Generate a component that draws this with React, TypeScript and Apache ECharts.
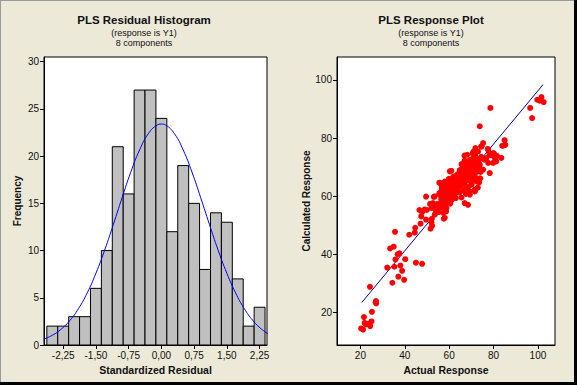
import React, { useEffect, useRef } from "react";
import * as echarts from "echarts";

// ---------- Left panel: residual histogram ----------
const binCenters = [-2.5, -2.25, -2.0, -1.75, -1.5, -1.25, -1.0, -0.75, -0.5, -0.25, 0.0, 0.25, 0.5, 0.75, 1.0, 1.25, 1.5, 1.75, 2.0, 2.25];
const binFreqs = [2, 2, 3, 3, 6, 10, 21, 16, 27, 27, 24, 12, 19, 15, 8, 14, 13, 7, 2, 4];
const binWidth = 0.25;

// fitted normal curve
const curveX = [-2.7, -2.5, -2.3, -2.1, -1.9, -1.7, -1.5, -1.3, -1.1, -0.9, -0.7, -0.5, -0.3, -0.1, 0.0, 0.1, 0.3, 0.5, 0.7, 0.9, 1.1, 1.3, 1.5, 1.7, 1.9, 2.1, 2.3, 2.5];
const curveY = [0.61, 1.03, 1.66, 2.58, 3.85, 5.52, 7.6, 10.05, 12.78, 15.61, 18.32, 20.65, 22.37, 23.28, 23.4, 23.28, 22.37, 20.65, 18.32, 15.61, 12.78, 10.05, 7.6, 5.52, 3.85, 2.58, 1.66, 1.03];

const histXTicks = [-2.25, -1.5, -0.75, 0, 0.75, 1.5, 2.25];
const histXTickLabels = ["-2,25", "-1,50", "-0,75", "0,00", "0,75", "1,50", "2,25"];
const histYTicks = [0, 5, 10, 15, 20, 25, 30];

// ---------- Right panel: response plot ----------
const responsePairs: [number, number][] = [
  // low group
  [20.3, 14.6], [21.2, 14.2], [21.6, 18.5], [21.9, 16.5], [22.5, 16.0], [23.4, 16.2], [24.4, 15.4], [25.0, 17.0], [25.2, 20.3], [24.3, 28.9], [27.0, 24.0], [27.1, 23.2], [26.9, 23.6],
  // 30-48
  [32.1, 35.5], [33.4, 42.1], [34.4, 30.3], [35.0, 42.7], [35.3, 35.8], [35.6, 47.8], [35.8, 38.3], [36.8, 40.1], [37.1, 32.4], [37.6, 40.4], [38.0, 36.2], [38.8, 34.4], [39.7, 31.3], [40.2, 38.4], [42.0, 46.8], [44.5, 47.5], [44.7, 49.2], [45.0, 37.2], [47.8, 36.8],
  // 46-55
  [46.6, 55.3], [47.1, 50.6], [47.4, 53.1], [47.8, 54.6], [49.0, 55.5], [49.6, 52.0], [49.6, 59.9], [49.9, 55.3], [51.4, 57.4], [51.6, 48.9], [52.0, 51.0], [52.3, 49.9], [52.2, 52.3], [53.1, 56.6], [53.1, 59.8], [52.0, 56.0], [52.7, 57.7], [53.5, 53.7], [53.5, 60.0], [53.8, 55.4], [54.7, 57.4], [55.0, 56.5], [55.2, 54.6], [55.6, 61.1], [55.6, 64.7], [55.8, 56.3], [55.8, 60.6], [55.8, 64.6],
  // dense 56-73
  [56.4, 58.9], [57.1, 56.0], [57.3, 58.3], [57.3, 54.3], [57.6, 52.3], [57.9, 58.9], [58.0, 61.7], [58.0, 65.1], [58.0, 52.6], [58.6, 54.8], [58.8, 56.0], [59.5, 64.2], [60.3, 60.8], [60.3, 68.6], [61.0, 68.8], [63.0, 59.4], [64.0, 66.9], [64.0, 65.1], [65.6, 59.6], [65.6, 71.1], [66.3, 68.8], [66.3, 64.0], [67.0, 72.3], [67.0, 57.7], [67.8, 67.2], [67.8, 62.9], [68.1, 74.3], [68.5, 57.1], [69.3, 66.3], [69.3, 60.6], [69.3, 61.7], [70.1, 70.9], [70.1, 64.0], [70.5, 72.9], [70.8, 72.0], [70.8, 66.9], [71.6, 61.7], [71.6, 62.3], [71.6, 74.3], [72.0, 73.4], [72.3, 71.5], [72.3, 66.3], [72.3, 69.2], [72.3, 65.1],
  [56.2, 60.2], [56.5, 61.8], [56.8, 63.2], [57.0, 59.5], [57.2, 62.5], [57.5, 60.8], [57.8, 63.8], [57.0, 57.5], [56.7, 62.9], [57.7, 59.7],
  [58.2, 59.0], [58.4, 60.5], [58.5, 62.4], [58.7, 63.6], [58.9, 61.2], [59.1, 59.9], [59.3, 62.8], [59.6, 61.0], [59.8, 63.5], [58.3, 57.2], [59.2, 58.0], [59.9, 66.0], [59.0, 64.9],
  [60.1, 62.2], [60.4, 59.3], [60.6, 63.9], [60.8, 61.5], [61.0, 65.3], [61.3, 62.6], [61.5, 60.2], [61.7, 64.1], [61.9, 66.8], [60.5, 57.5], [61.2, 58.8], [62.0, 63.0],
  [62.2, 61.3], [62.4, 64.9], [62.6, 66.2], [62.8, 62.4], [63.1, 65.5], [63.3, 63.7], [63.5, 67.4], [63.8, 64.6], [62.5, 60.0], [63.6, 61.5],
  [64.2, 63.2], [64.4, 67.9], [64.6, 65.9], [64.9, 64.3], [65.1, 68.4], [65.3, 66.6], [65.6, 63.9], [65.8, 69.6], [64.7, 61.3], [65.9, 67.5], [64.8, 69.0],
  [66.1, 65.4], [66.4, 70.2], [66.6, 66.8], [66.8, 68.9], [67.1, 64.9], [67.3, 70.6], [67.5, 66.2], [67.8, 69.5], [66.2, 62.0], [67.6, 60.8], [66.9, 74.0],
  [68.1, 68.1], [68.3, 71.3], [68.5, 65.7], [68.8, 70.0], [69.0, 67.1], [69.2, 72.5], [69.5, 68.7], [69.8, 71.0], [68.6, 63.4], [69.7, 65.3],
  [70.2, 68.9], [70.4, 70.3], [70.6, 74.7], [71.0, 69.7], [71.3, 71.6], [71.5, 67.9], [71.9, 70.6], [70.9, 75.3], [71.8, 76.6], [71.2, 65.8],
  [72.6, 68.5], [72.8, 71.9], [73.0, 75.4], [73.3, 69.9], [73.6, 72.7], [73.8, 70.9], [74.2, 68.4], [74.5, 73.6], [74.6, 77.2], [75.3, 78.3], [74.0, 66.2], [73.5, 64.8], [72.9, 63.0],
  // 75-86 and outliers
  [75.3, 69.2], [75.9, 72.6], [76.8, 73.2], [77.4, 76.3], [77.6, 71.5], [77.6, 76.0], [78.2, 74.7], [78.3, 68.0], [78.3, 74.3], [79.2, 74.1], [79.8, 74.9], [79.8, 71.5], [80.2, 74.7], [80.6, 73.5], [80.6, 73.2], [81.2, 72.0], [81.5, 73.9], [83.5, 73.2], [83.9, 77.4], [84.3, 77.4], [85.0, 79.3], [85.3, 77.7], [78.6, 90.4], [73.8, 84.1], [74.4, 77.1],
  // top right
  [96.5, 90.4], [97.4, 86.9], [99.7, 93.2], [100.8, 92.9], [101.6, 94.1], [102.6, 92.4],
];

const fitLineX = [20.6, 102.3];
const fitLineY = [23.5, 98.4];

const respTicks = [20, 40, 60, 80, 100];

const FONT = "'Liberation Sans', Arial, sans-serif";
const TXT = "#111";

function tick(values: number[]) {
  return { show: true, inside: false, length: 4, lineStyle: { color: "#000" }, customValues: values };
}
const axisLine = { show: true, onZero: false, lineStyle: { color: "#000", width: 1 } };

export default function App() {
  const ref = useRef<HTMLDivElement>(null);
  useEffect(() => {
    document.body.style.margin = "0";
    const chart = echarts.init(ref.current as HTMLDivElement, null, { renderer: "svg" });

    const option: any = {
      animation: false,
      backgroundColor: "#ece9d8",
      textStyle: { fontFamily: FONT },
      grid: [
        { left: 44, top: 57, width: 223, height: 288, show: true, backgroundColor: "#fff", borderColor: "#000", borderWidth: 1, containLabel: false },
        { left: 337, top: 57, width: 218, height: 288, show: true, backgroundColor: "#fff", borderColor: "#000", borderWidth: 1, containLabel: false },
      ],
      xAxis: [
        {
          type: "value", gridIndex: 0, min: -2.69, max: 2.42,
          axisLine, splitLine: { show: false },
          name: "Standardized Residual", nameLocation: "middle", nameGap: 15,
          nameTextStyle: { fontFamily: FONT, fontSize: 10.5, fontWeight: "bold", color: TXT },
          axisTick: tick(histXTicks),
          axisLabel: {
            customValues: histXTicks, margin: 5, fontSize: 10, color: TXT, fontFamily: FONT,
            formatter: (v: number) => histXTickLabels[histXTicks.findIndex((t) => Math.abs(t - v) < 1e-6)] ?? "",
          },
        },
        {
          type: "value", gridIndex: 1, min: 9.45, max: 107.7,
          axisLine, splitLine: { show: false },
          name: "Actual Response", nameLocation: "middle", nameGap: 15,
          nameTextStyle: { fontFamily: FONT, fontSize: 10.5, fontWeight: "bold", color: TXT },
          axisTick: tick(respTicks),
          axisLabel: { customValues: respTicks, margin: 5, fontSize: 10, color: TXT, fontFamily: FONT },
        },
      ],
      yAxis: [
        {
          type: "value", gridIndex: 0, min: 0, max: 30.5,
          axisLine, splitLine: { show: false },
          name: "Frequency", nameLocation: "middle", nameGap: 22,
          nameTextStyle: { fontFamily: FONT, fontSize: 10, fontWeight: "bold", color: TXT },
          axisTick: tick(histYTicks),
          axisLabel: { customValues: histYTicks, margin: 5, fontSize: 10, color: TXT, fontFamily: FONT },
        },
        {
          type: "value", gridIndex: 1, min: 8.9, max: 107.9,
          axisLine, splitLine: { show: false },
          name: "Calculated Response", nameLocation: "middle", nameGap: 26,
          nameTextStyle: { fontFamily: FONT, fontSize: 10, fontWeight: "bold", color: TXT },
          axisTick: tick(respTicks),
          axisLabel: { customValues: respTicks, margin: 5, fontSize: 10, color: TXT, fontFamily: FONT },
        },
      ],
      series: [
        {
          type: "custom",
          xAxisIndex: 0,
          yAxisIndex: 0,
          data: binCenters.map((c, i) => [c, binFreqs[i]]),
          renderItem: (_params: any, api: any) => {
            const c = api.value(0);
            const f = api.value(1);
            const p1 = api.coord([c - binWidth / 2, f]);
            const p2 = api.coord([c + binWidth / 2, 0]);
            return {
              type: "rect",
              shape: { x: p1[0], y: p1[1], width: p2[0] - p1[0], height: p2[1] - p1[1] },
              style: { fill: "#c0c0c0", stroke: "#000", lineWidth: 1 },
            };
          },
        },
        {
          type: "line",
          xAxisIndex: 0,
          yAxisIndex: 0,
          data: curveX.map((x, i) => [x, curveY[i]]),
          smooth: true,
          showSymbol: false,
          clip: true,
          lineStyle: { color: "#0000ff", width: 1 },
          z: 5,
        },
        {
          type: "line",
          xAxisIndex: 1,
          yAxisIndex: 1,
          data: fitLineX.map((x, i) => [x, fitLineY[i]]),
          showSymbol: false,
          lineStyle: { color: "#0000a0", width: 1 },
          z: 2,
        },
        {
          type: "scatter",
          xAxisIndex: 1,
          yAxisIndex: 1,
          data: responsePairs,
          symbolSize: 6,
          itemStyle: { color: "#ff0000", opacity: 1 },
          z: 3,
        },
      ],
      graphic: [
        { type: "text", x: 144, y: 20, style: { text: "PLS Residual Histogram", font: `bold 11.5px ${FONT}`, fill: TXT, textAlign: "center", textVerticalAlign: "middle" } },
        { type: "text", x: 144, y: 32.5, style: { text: "(response is Y1)", font: `9px ${FONT}`, fill: TXT, textAlign: "center", textVerticalAlign: "middle" } },
        { type: "text", x: 144, y: 42.5, style: { text: "8 components", font: `9px ${FONT}`, fill: TXT, textAlign: "center", textVerticalAlign: "middle" } },
        { type: "text", x: 431, y: 20, style: { text: "PLS Response Plot", font: `bold 11.5px ${FONT}`, fill: TXT, textAlign: "center", textVerticalAlign: "middle" } },
        { type: "text", x: 431, y: 32.5, style: { text: "(response is Y1)", font: `9px ${FONT}`, fill: TXT, textAlign: "center", textVerticalAlign: "middle" } },
        { type: "text", x: 431, y: 42.5, style: { text: "8 components", font: `9px ${FONT}`, fill: TXT, textAlign: "center", textVerticalAlign: "middle" } },
        { type: "rect", shape: { x: 0, y: 0, width: 577, height: 1 }, style: { fill: "#9a9a9a" } },
        { type: "rect", shape: { x: 0, y: 0, width: 1, height: 385 }, style: { fill: "#9a9a9a" } },
        { type: "rect", shape: { x: 574, y: 0, width: 3, height: 385 }, style: { fill: "#000" } },
        { type: "rect", shape: { x: 0, y: 382, width: 577, height: 3 }, style: { fill: "#000" } },
      ],
    };

    chart.setOption(option);
    return () => chart.dispose();
  }, []);
  return <div ref={ref} style={{ width: 577, height: 385 }} />;
}
